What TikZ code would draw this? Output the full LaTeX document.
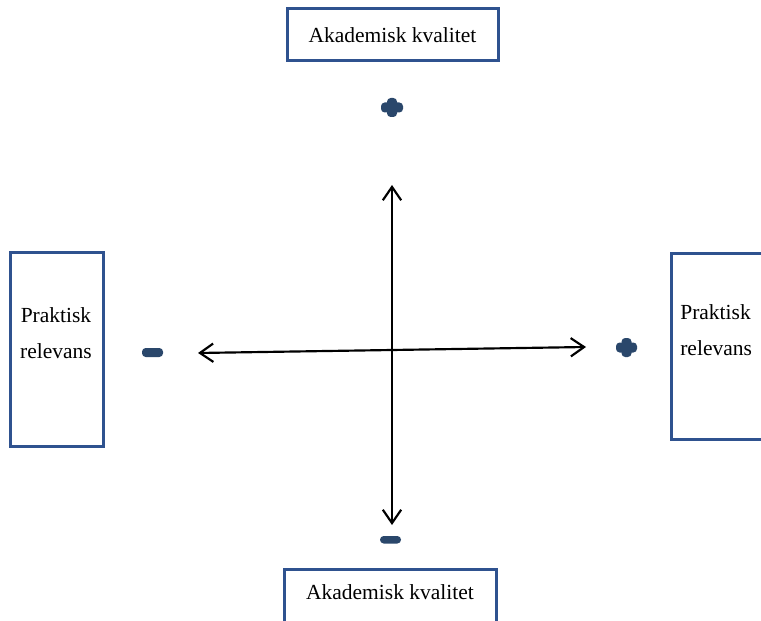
\documentclass[tikz,border=0pt]{standalone}
\usepackage{fontspec}
\setmainfont{Liberation Serif}
\usetikzlibrary{arrows.meta}
\definecolor{boxblue}{HTML}{2F528F}
\definecolor{signblue}{HTML}{2A476B}
\begin{document}
\begin{tikzpicture}[x=0.6pt, y=-0.6pt, font=\fontsize{12.9}{21.6}\selectfont,
      frame/.style={draw=boxblue, line width=1.8pt, inner sep=0pt},
      lbl/.style={align=center, inner sep=0pt},
      axis/.style={line width=1.3pt, {Straight Barb[length=8pt,width=11pt]}-{Straight Barb[length=8pt,width=11pt]}},
      sign/.style={fill=signblue, rounded corners=2.2pt}]
    \useasboundingbox (0,0) rectangle (761,621);
    \clip (0,0) rectangle (761,621);
    % boxes
    \node[frame, minimum width=126.6pt, minimum height=31.2pt] (topbox) at (392.5,35) {Akademisk kvalitet};
    \node[frame, minimum width=55.8pt, minimum height=116.4pt] (leftbox) at (56.5,349) {};
    \node[lbl] (lefttxt) at (56,333) {Praktisk\\relevans};
    \node[frame, minimum width=101.4pt, minimum height=111.6pt] (rightbox) at (755.5,346) {};
    \node[lbl, align=left, anchor=west] (righttxt) at (680,330) {Praktisk\\relevans};
    \node[frame, minimum width=127.2pt, minimum height=54.6pt] (botbox) at (390,614.5) {};
    \node[lbl] (bottxt) at (390,592) {Akademisk kvalitet};
    % axes
    \coordinate (ytop) at (392,185);
    \coordinate (ybot) at (392,525);
    \coordinate (xleft) at (198,353);
    \coordinate (xright) at (586,347);
    \draw[axis] (ybot) -- (ytop);
    \draw[axis] (xleft) -- (xright);
    % signs
    \fill[sign] (381,102.5) rectangle (403,112.5);
    \fill[sign] (387,98) rectangle (397,117);
    \fill[sign] (616,342.5) rectangle (637,352.5);
    \fill[sign] (621.5,338) rectangle (631.5,357);
    \fill[sign] (142,348) rectangle (163,357);
    \fill[sign] (380,536) rectangle (401,543.5);
  \end{tikzpicture}
\end{document}
